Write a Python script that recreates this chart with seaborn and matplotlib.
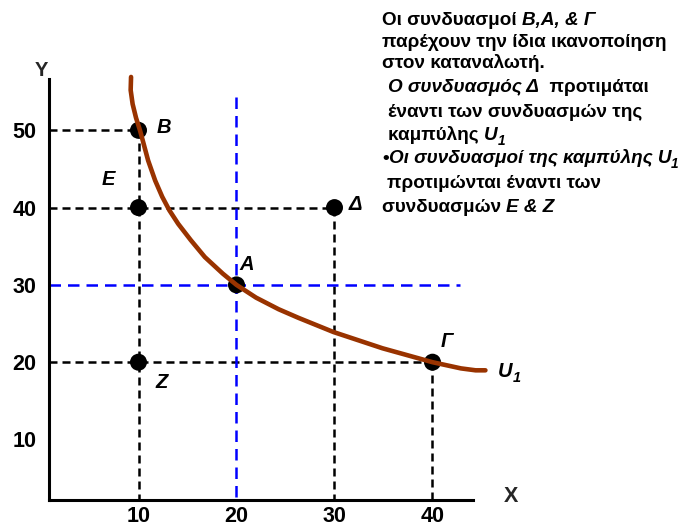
import matplotlib
matplotlib.use("Agg")
import matplotlib.pyplot as plt
import pandas as pd
import seaborn as sns

# Indifference curve U1 (good X, good Y)
curve_x = [9.24, 9.2, 9.4, 9.75, 10.15, 10.43, 10.98, 11.7, 12.42, 13.15, 14.05,
           15.33, 16.77, 18.6, 20.0, 22.0, 24.3, 26.3, 29.9, 34.9, 40.0, 42.9, 44.4, 45.4]
curve_y = [56.9, 55.2, 53.4, 51.6, 50.0, 48.7, 46.1, 43.5, 41.4, 39.65, 37.9,
           35.8, 33.6, 31.46, 30.0, 28.35, 26.85, 25.75, 23.9, 21.8, 20.0, 19.2, 18.95, 18.95]

# Consumption bundles
bundle_names = ["Β", "Ε", "Δ", "Α", "Ζ", "Γ"]
bundle_x = [10, 10, 30, 20, 10, 40]
bundle_y = [50, 40, 40, 30, 20, 20]

x_ticks = [10, 20, 30, 40]
y_ticks = [10, 20, 30, 40, 50]

# Bundles whose dashed guides run to both axes
guide_bundles = ["Β", "Δ", "Γ"]
ref_bundle = "Α"

note_lines = [
    [("Οι συνδυασμοί ", "normal"), ("Β,Α, & Γ", "italic")],
    [("παρέχουν την ίδια ικανοποίηση", "normal")],
    [("στον καταναλωτή.", "normal")],
    [("Ο συνδυασμός Δ", "italic"), ("  προτιμάται", "normal")],
    [("έναντι των συνδυασμών της", "normal")],
    [("καμπύλης ", "normal"), ("U", "italic"), ("1", "sub")],
    [("•", "normal"), ("Οι συνδυασμοί της καμπύλης U", "italic"), ("1", "sub")],
    [("προτιμώνται έναντι των", "normal")],
    [("συνδυασμών ", "normal"), ("Ε & Ζ", "italic")],
]
note_x = [382, 382, 382, 388, 388, 388, 382, 387, 382]
note_baseline = [25, 46.7, 68, 91.7, 116.7, 140, 163, 188, 211.7]

sns.set_theme(style="white")
plt.rcParams["font.family"] = ["Liberation Sans", "DejaVu Sans"]

W, H = 688, 526
fig = plt.figure(figsize=(W / 100, H / 100), dpi=100)
ax = fig.add_axes([40.5 / W, (H - 516.8) / H, (510.9 - 40.5) / W, (516.8 - 53.0) / H])
ax.set_xlim(0, 48)
ax.set_ylim(0, 60)

x_axis_start, y_axis_start = 0.87, 2.17
x_axis_end, y_axis_end = 44.13, 56.64

for side in ("top", "right"):
    ax.spines[side].set_visible(False)
ax.spines["left"].set_position(("data", x_axis_start))
ax.spines["bottom"].set_position(("data", y_axis_start))
ax.spines["left"].set_bounds(y_axis_start, y_axis_end)
ax.spines["bottom"].set_bounds(x_axis_start, x_axis_end)
for side in ("left", "bottom"):
    ax.spines[side].set_color("black")
    ax.spines[side].set_linewidth(2.2)

ax.set_xticks(x_ticks, [str(v) for v in x_ticks])
ax.set_yticks(y_ticks, [str(v) for v in y_ticks])
ax.tick_params(axis="both", length=0)
ax.tick_params(axis="x", pad=4, labelsize=15.5)
ax.tick_params(axis="y", pad=9, labelsize=15.5)
for lab in ax.get_xticklabels() + ax.get_yticklabels():
    lab.set_fontweight("bold")
    lab.set_color("black")

black_dash = (0, (3.2, 2.0))
blue_dash = (0, (4.6, 2.8))
guide_lw = 1.8

bx = dict(zip(bundle_names, bundle_x))
by = dict(zip(bundle_names, bundle_y))
for name in guide_bundles:
    ax.plot([x_axis_start, bx[name]], [by[name], by[name]], color="black",
            lw=guide_lw, linestyle=black_dash, zorder=2)
    ax.plot([bx[name], bx[name]], [by[name], y_axis_start], color="black",
            lw=guide_lw, linestyle=black_dash, zorder=2)

ax.plot([bx[ref_bundle], bx[ref_bundle]], [54.3, y_axis_start], color="#0000FF",
        lw=guide_lw, linestyle=blue_dash, zorder=2)
ax.plot([x_axis_start, 42.8], [by[ref_bundle], by[ref_bundle]], color="#0000FF",
        lw=guide_lw, linestyle=blue_dash, zorder=2)

sns.scatterplot(x=bundle_x, y=bundle_y, s=150, color="black", edgecolor="none",
                ax=ax, zorder=3, legend=False)

curve_df = pd.DataFrame({"x": curve_x, "y": curve_y})
sns.lineplot(data=curve_df, x="x", y="y", sort=False, estimator=None,
             color="#993300", linewidth=3.3, ax=ax, zorder=4)
for ln in ax.lines[-1:]:
    ln.set_solid_capstyle("round")
    ln.set_solid_joinstyle("round")
    ln.set_clip_on(False)
ax.set_xlabel("")
ax.set_ylabel("")

label_offsets = {"Β": (18.4, 2.2), "Ε": (-22, 19.9), "Δ": (14.8, 1.9),
                 "Α": (7.6, 14.4), "Ζ": (16.9, -14.4), "Γ": (10.4, 15.1)}
for name, x, y in zip(bundle_names, bundle_x, bundle_y):
    ax.annotate(name, (x, y), xytext=label_offsets[name], textcoords="offset points",
                ha="center", va="center", fontsize=14.5, fontweight="bold",
                fontstyle="italic", color="black")

renderer = fig.canvas.get_renderer()


def px_text(x, y, s, **kw):
    return fig.text(x / W, 1 - y / H, s, **kw)


def run_width(s, **kw):
    t1 = fig.text(0, 0, s + "|", **kw)
    t2 = fig.text(0, 0, "|", **kw)
    w = t1.get_window_extent(renderer).width - t2.get_window_extent(renderer).width
    t1.remove()
    t2.remove()
    return w


def draw_runs(x0, base, runs, size):
    x = x0
    for s, style in runs:
        if style == "sub":
            kw = dict(fontsize=size * 0.72, fontweight="bold", fontstyle="italic")
            y = base + 5
        else:
            kw = dict(fontsize=size, fontweight="bold", fontstyle=style)
            y = base
        px_text(x, y, s, va="baseline", ha="left", color="black", **kw)
        x += run_width(s, **kw)


# U1 label at the end of the curve
draw_runs(498, 377, [("U", "italic"), ("1", "sub")], 14.5)

# Axis names
px_text(41, 71, "Y", ha="center", va="center", fontsize=14.5, fontweight="bold")
px_text(511, 497, "X", ha="center", va="center", fontsize=15.5, fontweight="bold")

for runs, x0, base in zip(note_lines, note_x, note_baseline):
    draw_runs(x0, base, runs, 13.6)

fig.savefig("out.png", dpi=100)
